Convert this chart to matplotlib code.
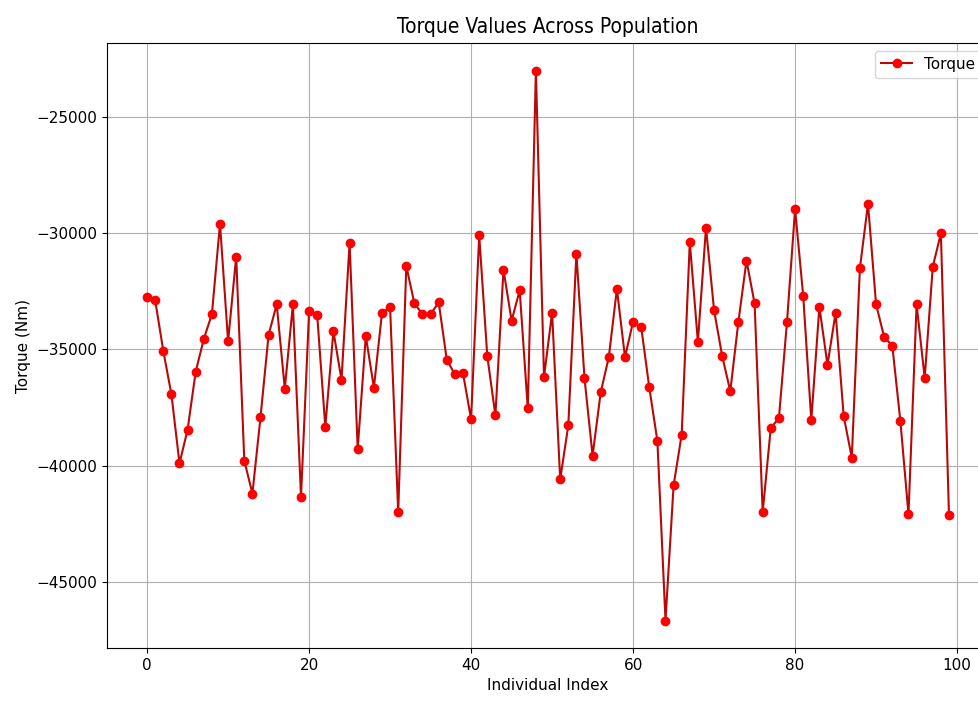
import numpy as np
import matplotlib
matplotlib.use("Agg")
import matplotlib.pyplot as plt

# torque per individual
torque = [-32770, -32900, -35070, -36930, -39900, -38450, -35960, -34560, -33490, -29610,
          -34660, -31020, -39780, -41200, -37920, -34380, -33070, -36690, -33070, -41350,
          -33350, -33530, -38330, -34220, -36310, -30430, -39290, -34430, -36650, -33430,
          -33200, -41990, -31420, -33030, -33490, -33490, -32980, -35450, -36080, -36030,
          -38000, -30100, -35290, -37840, -31580, -33770, -32470, -37540, -23025, -36190,
          -33430, -40590, -38270, -30890, -36240, -39570, -36850, -35340, -32410, -35340,
          -33810, -34040, -36640, -38940, -46650, -40850, -38660, -30400, -34680, -29770,
          -33330, -35290, -36800, -33820, -31190, -33030, -41990, -38370, -37970, -33820,
          -28980, -32700, -38040, -33180, -35670, -33430, -37870, -39650, -31520, -28750,
          -33070, -34480, -34840, -38090, -42090, -33070, -36230, -31450, -30020, -42120]
individual = np.arange(len(torque))

fig = plt.figure(figsize=(9.79, 7.02), dpi=100)
# the reference is cut off on the right, so the axes run past the figure edge
ax = fig.add_axes([0.1093, 0.0769, 0.901, 0.8618])

ax.plot(individual, torque, color='#b80808', marker='o', markerfacecolor='red',
        markeredgecolor='red', linestyle='-', label='Torque')
ax.set_title('Torque Values Across Population', fontsize=15, fontstretch='condensed', pad=7)
ax.set_xlabel('Individual Index', fontsize=11)
ax.set_ylabel('Torque (Nm)', fontsize=11)
ax.tick_params(labelsize=11)
ax.grid(True)
ax.legend(loc='upper right', fontsize=11)

plt.savefig('out.png', dpi=100)
